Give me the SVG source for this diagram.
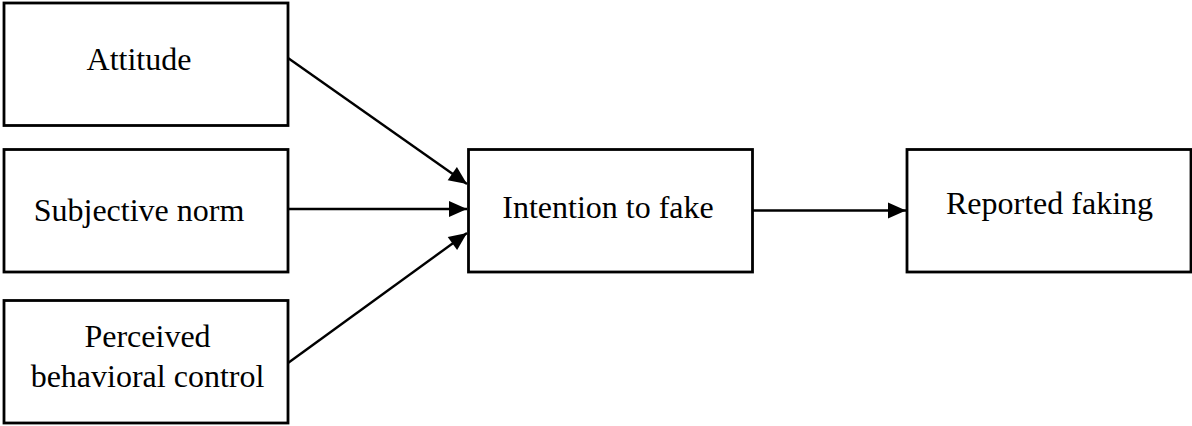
<svg xmlns="http://www.w3.org/2000/svg" width="1192" height="426" viewBox="0 0 1192 426">
  <style>
    .box { fill: #ffffff; stroke: #000000; stroke-width: 2.8; }
    .lbl { font-family: "Liberation Serif", "Times New Roman", serif; font-size: 32px; fill: #000000; text-anchor: middle; }
    .edge { stroke: #000000; stroke-width: 2.4; fill: none; marker-end: url(#head); }
  </style>
  <defs>
    <marker id="head" markerWidth="18" markerHeight="16" refX="18" refY="8" orient="auto" markerUnits="userSpaceOnUse" overflow="visible">
      <path d="M0,0 L18,8 L0,16 Z" fill="#000000"/>
    </marker>
  </defs>
  <rect width="1192" height="426" fill="#ffffff"/>

  <g id="connectors">
    <line class="edge" x1="288" y1="58" x2="467" y2="184"/>
    <line class="edge" x1="288" y1="209" x2="467" y2="209"/>
    <line class="edge" x1="288" y1="363" x2="467" y2="233"/>
    <line class="edge" x1="753" y1="210.5" x2="906" y2="210.5"/>
  </g>

  <g id="attitude">
    <rect class="box" x="4" y="3" width="284" height="122.5"/>
    <text class="lbl" x="139" y="70">Attitude</text>
  </g>

  <g id="subjective-norm">
    <rect class="box" x="4" y="149.5" width="284" height="122.5"/>
    <text class="lbl" x="139" y="221">Subjective norm</text>
  </g>

  <g id="perceived-behavioral-control">
    <rect class="box" x="4" y="300.5" width="284" height="122.5"/>
    <text class="lbl" x="147.5" y="346.5">Perceived</text>
    <text class="lbl" x="147.5" y="386.5">behavioral control</text>
  </g>

  <g id="intention-to-fake">
    <rect class="box" x="468.5" y="149.5" width="284" height="122.5"/>
    <text class="lbl" x="608" y="218">Intention to fake</text>
  </g>

  <g id="reported-faking">
    <rect class="box" x="907" y="149.5" width="284" height="122.5"/>
    <text class="lbl" x="1049.5" y="214">Reported faking</text>
  </g>
</svg>
